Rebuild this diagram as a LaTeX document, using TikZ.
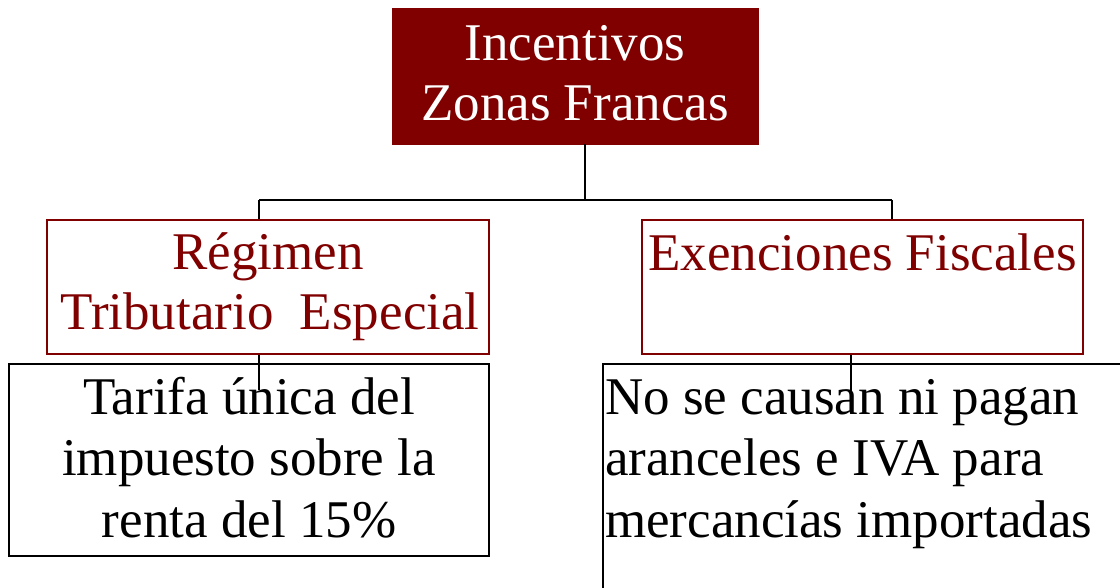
\documentclass[tikz,border=0pt]{standalone}
\usepackage{fontspec}
\setmainfont{Liberation Serif}
\usetikzlibrary{calc}
\definecolor{maroon}{HTML}{800000}
\begin{document}
\begin{tikzpicture}[x=1pt,y=-1pt,
  topbox/.style={rectangle, fill=maroon, draw=maroon, line width=0.8pt, inner sep=0pt},
  midbox/.style={rectangle, draw=maroon, fill=white, line width=1.5pt, inner sep=0pt},
  lowbox/.style={rectangle, draw=black, fill=white, line width=1.6pt, inner sep=0pt},
  conn/.style={draw=black, line width=1.8pt},
  big/.style={font=\fontsize{53}{60}\selectfont, inner sep=0pt},
  toptxt/.style={big, text=white, anchor=base},
  midtxt/.style={big, text=maroon, anchor=base},
  lowtxt/.style={big, text=black, anchor=base}]
\useasboundingbox (0,0) rectangle (1120,588);
\begin{scope}
\clip (0,0) rectangle (1120,588);
% boxes
\node[topbox, minimum width=366pt, minimum height=136pt] (top) at (575,76) {};
\node[midbox, minimum width=442pt, minimum height=134pt] (left) at (268,287) {};
\node[midbox, minimum width=441pt, minimum height=134pt] (right) at (862.5,287) {};
\node[lowbox, minimum width=480pt, minimum height=192pt] (ll) at (249,460) {};
\node[lowbox, minimum width=537pt, minimum height=246pt] (lr) at (871.5,487) {};
% texts
\node[toptxt] (t1) at (575,61) {Incentivos};
\node[toptxt] (t2) at (575,121) {Zonas Francas};
\node[midtxt] (l1) at (268,270) {Régimen};
\node[midtxt] (l2) at (270,330) {Tributario\ \ Especial};
\node[midtxt] (r1) at (862.5,271) {Exenciones Fiscales};
\node[lowtxt] (a1) at (249,414) {Tarifa única del};
\node[lowtxt] (a2) at (249,475) {impuesto sobre la};
\node[lowtxt] (a3) at (249,537) {renta del 15\%};
\node[lowtxt, anchor=base west] (b1) at (605,414) {No se causan ni pagan};
\node[lowtxt, anchor=base west] (b2) at (605,475) {aranceles e IVA para};
\node[lowtxt, anchor=base west] (b3) at (605,537) {mercancías importadas};
% connectors
\coordinate (j) at (585,200);
\coordinate (jl) at (259,200);
\coordinate (jr) at (892,200);
\coordinate (el) at (259,390);
\coordinate (er) at (851,393);
\draw[conn] ($(top.south)+(10,0)$) -- (j);
\draw[conn] (jl) -- (jr);
\draw[conn] (jl) -- ($(left.north)+(-9,0)$);
\draw[conn] (jr) -- ($(right.north)+(29.5,0)$);
\draw[conn, line width=1.4pt] ($(left.south)+(-9,0)$) -- (el);
\draw[conn, line width=1.4pt] ($(right.south)+(-11.5,0)$) -- (er);
\end{scope}
\end{tikzpicture}
\end{document}
